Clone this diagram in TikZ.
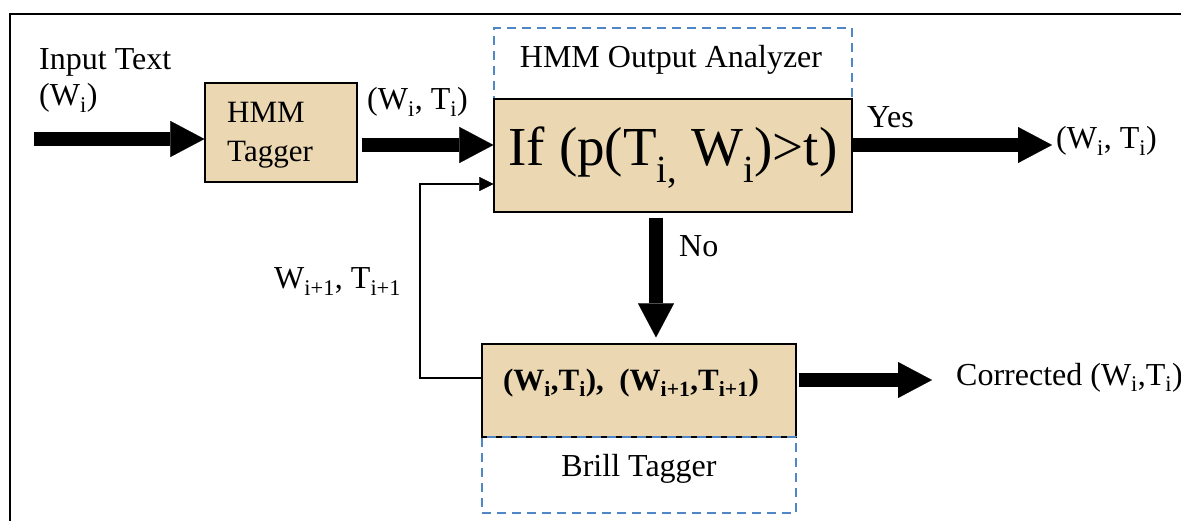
\documentclass[tikz,border=0pt]{standalone}
\usepackage{fontspec}
\setmainfont{LiberationSerif}[Extension=.ttf, UprightFont=*-Regular, BoldFont=*-Bold, ItalicFont=*-Italic, BoldItalicFont=*-BoldItalic]
\usetikzlibrary{arrows.meta,calc}
\definecolor{parch}{HTML}{EBD8B2}
\definecolor{dashblue}{HTML}{4F86C6}
\tikzset{
  box/.style={draw=black, line width=1.2pt, fill=parch, rectangle, inner sep=0pt},
  dbox/.style={draw=dashblue, line width=2.5pt, dash pattern=on 9pt off 6pt, rectangle, inner sep=0pt},
  lbl/.style={inner sep=0pt, font=\fontsize{32}{36}\selectfont},
  bigarrow/.style={line width=14pt, -{Triangle[length=34pt,width=36pt,line width=0.1pt]}},
  thinarrow/.style={line width=1.5pt, -{Triangle[length=14pt,width=14pt,line width=0.1pt]}},
}
\begin{document}
\begin{tikzpicture}[x=1pt,y=-1pt]
\useasboundingbox (0,0) rectangle (1181,521);
% frame
\draw[line width=2.5pt] (10,521) -- (10,14) -- (1181,14);

% boxes
\node[box, minimum width=152pt, minimum height=99pt] (tagger) at (281,132.5) {};
\node[lbl, anchor=base west, font=\fontsize{31}{36}\selectfont] (taggertxt1) at (227,123) {HMM};
\node[lbl, anchor=base west, font=\fontsize{31}{36}\selectfont] (taggertxt2) at (227,162) {Tagger};
\node[dbox, minimum width=358pt, minimum height=71pt] (analyzer) at (673,63.5) {};
\node[lbl, anchor=base] (analyzertxt) at (671,68) {HMM Output Analyzer};
\node[box, minimum width=358pt, minimum height=113pt] (main) at (673,155.5) {};
\node[inner sep=0pt, anchor=base, font=\fontsize{55}{60}\selectfont] (maintxt) at (673,166) {If (p(T\textsubscript{i,} W\textsubscript{i})>t)};

\node[box, minimum width=314pt, minimum height=93pt] (brill) at (639,390.5) {};
\node[inner sep=0pt, anchor=base, font=\fontsize{31}{36}\selectfont\bfseries] (brilltxt) at (631,390) {(W\textsubscript{i},T\textsubscript{i}),\ \ (W\textsubscript{i+1},T\textsubscript{i+1})};
\node[dbox, minimum width=314pt, minimum height=76pt] (brilllab) at (639,475) {};
\node[lbl, anchor=base] (brilllabtxt) at (639,476) {Brill Tagger};

% labels
\node[lbl, anchor=base west] (inputtxt) at (39,70) {Input Text};
\node[lbl, anchor=base west] (inputw) at (39,106) {(W\textsubscript{i})};
\node[lbl, anchor=base west] (wt1) at (367,110) {(W\textsubscript{i}, T\textsubscript{i})};
\node[lbl, anchor=base west] (yes) at (867,128) {Yes};
\node[lbl, anchor=base west] (wt2) at (1056,149) {(W\textsubscript{i}, T\textsubscript{i})};
\node[lbl, anchor=base west] (no) at (679,257) {No};
\node[lbl, anchor=base west] (wt3) at (274,289) {W\textsubscript{i+1}, T\textsubscript{i+1}};
\node[lbl, anchor=base west] (corr) at (956,385) {Corrected (W\textsubscript{i},T\textsubscript{i})};

% coordinates
\coordinate (instart) at (34,139);
\coordinate (yesend) at (1052,145);
\coordinate (nostart) at (656,218);
\coordinate (outend) at (932,380);
\coordinate (fbx) at (420,184);

% arrows
\draw[bigarrow] (instart) -- (instart -| tagger.west);
\draw[bigarrow] ([xshift=4pt,yshift=-12.5pt]tagger.east) -- ([yshift=10.5pt]main.west);
\draw[bigarrow] ([yshift=10.5pt]main.east) -- (yesend);
\draw[bigarrow, shorten >=6pt] (nostart) -- (nostart |- brill.north);
\draw[bigarrow] ([xshift=2pt,yshift=10.5pt]brill.east) -- (outend);
\draw[thinarrow] ([yshift=12.5pt]brill.west) -| (fbx) -- ([yshift=-28.5pt]main.west);
\end{tikzpicture}
\end{document}
